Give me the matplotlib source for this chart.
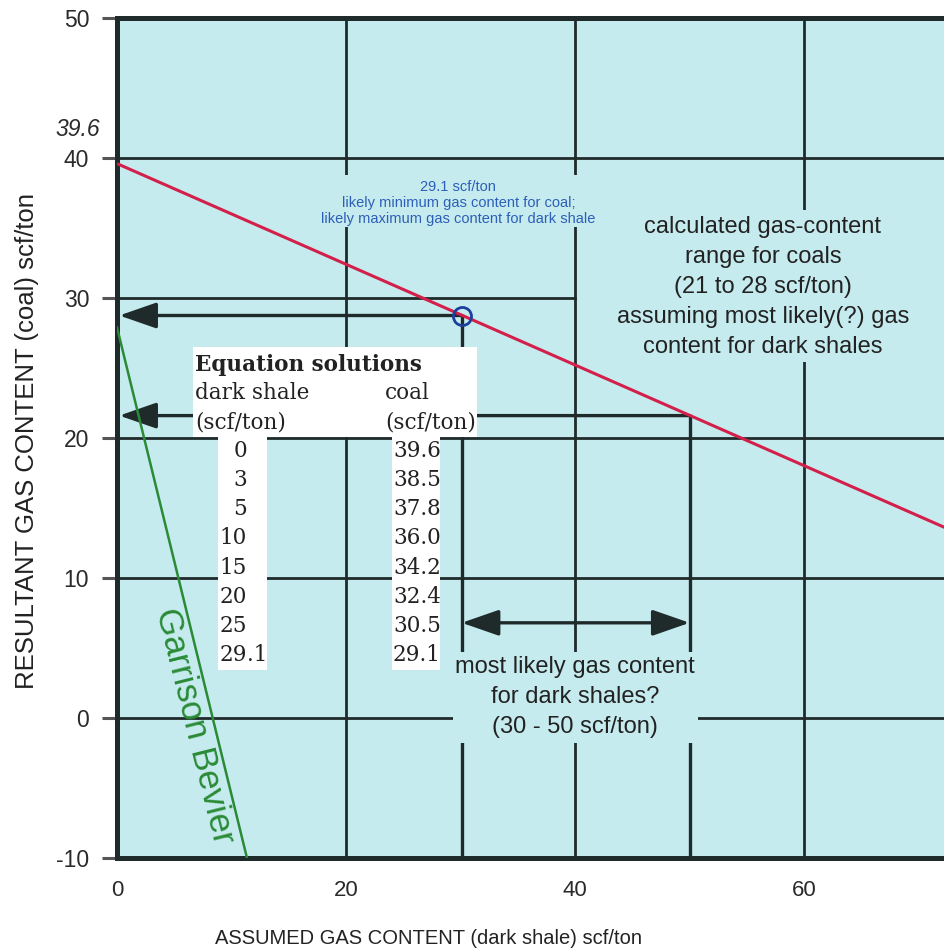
import matplotlib
matplotlib.use("Agg")
import matplotlib.pyplot as plt
from matplotlib.patches import Rectangle

# ---- data ----
shale_vals = [0, 3, 5, 10, 15, 20, 25, 29.1]
coal_vals = [39.6, 38.5, 37.8, 36.0, 34.2, 32.4, 30.5, 29.1]
red_x = [0, 72.3]
red_y = [39.6, 13.6]
green_x = [0, 11.35]
green_y = [27.9, -10]
circle_pt = (30.1, 28.75)
corner_pt = (50.0, 21.6)
range_arrow_y = 6.8
x_ticks = [0, 20, 40, 60]
y_ticks = [-10, 0, 10, 20, 30, 40, 50]
grid_x = [20, 40, 60]
grid_y = [0, 10, 20, 30, 40]

BG = "#c6ebef"
DARK = "#1f2b2b"
RED = "#d2204a"
GREEN = "#2a8a35"
BLUE = "#2c5fb8"
SANS = ["Liberation Sans", "DejaVu Sans"]
SERIF = ["DejaVu Serif"]

plt.rcParams["font.family"] = SANS
plt.rcParams["axes.unicode_minus"] = False

fig = plt.figure(figsize=(9.45, 9.5), dpi=100)
ax = fig.add_axes([117 / 945, 92 / 950, 828 / 945, 840 / 950])
ax.set_facecolor(BG)
ax.set_xlim(0, 72.3)
ax.set_ylim(-10, 50)

for s in ["left", "bottom", "top"]:
    ax.spines[s].set_linewidth(3.6)
    ax.spines[s].set_color(DARK)
ax.spines["right"].set_visible(False)

ax.set_xticks(x_ticks)
ax.set_yticks(y_ticks)
ax.tick_params(axis="y", length=11, width=2.2, color="#555555", pad=9,
               labelsize=16.5, labelcolor="#2a2a2a")
ax.tick_params(axis="x", length=0, pad=16, labelsize=16, labelcolor="#2a2a2a")

# grid lines
for gx in grid_x:
    ax.axvline(gx, color=DARK, lw=2.0, zorder=1)
for gy in grid_y:
    ax.axhline(gy, color=DARK, lw=2.0, zorder=1)

# annotation lines
ax.plot([circle_pt[0], circle_pt[0]], [circle_pt[1], -10], color=DARK, lw=2.4, zorder=2)
ax.plot([corner_pt[0], corner_pt[0]], [corner_pt[1], -10], color=DARK, lw=2.4, zorder=2)
arrow_kw = dict(arrowstyle="-|>,head_length=1.15,head_width=0.4", mutation_scale=20,
                lw=2.4, color=DARK, shrinkA=0, shrinkB=0)
ax.annotate("", xy=(0.2, circle_pt[1]), xytext=circle_pt, arrowprops=arrow_kw, zorder=2)
ax.annotate("", xy=(0.2, corner_pt[1]), xytext=corner_pt, arrowprops=arrow_kw, zorder=2)
dbl_kw = dict(arrow_kw)
dbl_kw["arrowstyle"] = "<|-|>,head_length=1.15,head_width=0.4"
ax.annotate("", xy=(corner_pt[0], range_arrow_y), xytext=(circle_pt[0], range_arrow_y),
            arrowprops=dbl_kw, zorder=2)

# covering boxes (background coloured)
ax.add_patch(Rectangle((40.2, 25.4), 33, 10.9, facecolor=BG, edgecolor="none", zorder=3))
ax.add_patch(Rectangle((16.9, 35.1), 26.1, 3.7, facecolor=BG, edgecolor="none", zorder=3))
ax.add_patch(Rectangle((29.3, -1.8), 21.4, 6.5, facecolor=BG, edgecolor="none", zorder=3))

# lines
ax.plot(red_x, red_y, color=RED, lw=2.2, zorder=5, solid_capstyle="butt")
ax.plot(green_x, green_y, color=GREEN, lw=1.8, zorder=5)
ax.plot([circle_pt[0]], [circle_pt[1]], marker="o", ms=13, mfc="none", mec="#1c3f9e",
        mew=2.0, zorder=6)

# table
ax.add_patch(Rectangle((6.64, 20.07), 24.8, 6.43, facecolor="white", edgecolor="none", zorder=4))
ax.add_patch(Rectangle((8.82, 3.43), 4.3, 16.7, facecolor="white", edgecolor="none", zorder=4))
ax.add_patch(Rectangle((24.0, 3.43), 4.2, 16.7, facecolor="white", edgecolor="none", zorder=4))

tfs = 15.5
ax.text(6.8, 25.2, "Equation solutions", family=SERIF, weight="bold", fontsize=tfs,
        color="#222222", va="center", ha="left", zorder=5)
ax.text(6.8, 23.2, "dark shale", family=SERIF, fontsize=tfs, color="#222222",
        va="center", ha="left", zorder=5)
ax.text(6.8, 21.1, "(scf/ton)", family=SERIF, fontsize=tfs, color="#222222",
        va="center", ha="left", zorder=5)
ax.text(23.4, 23.2, "coal", family=SERIF, fontsize=tfs, color="#222222",
        va="center", ha="left", zorder=5)
ax.text(23.4, 21.1, "(scf/ton)", family=SERIF, fontsize=tfs, color="#222222",
        va="center", ha="left", zorder=5)
row0 = 19.1
step = 2.09
for i, (sv, cv) in enumerate(zip(shale_vals, coal_vals)):
    yy = row0 - i * step
    s = f"{sv:g}"
    ip, _, fp = s.partition(".")
    ax.text(11.35, yy, ip, family=SERIF, fontsize=tfs, color="#222222",
            va="center", ha="right", zorder=5)
    if fp:
        ax.text(11.35, yy, "." + fp, family=SERIF, fontsize=tfs, color="#222222",
                va="center", ha="left", zorder=5)
    ax.text(24.1, yy, f"{cv:.1f}", family=SERIF, fontsize=tfs, color="#222222",
            va="center", ha="left", zorder=5)

# annotations
ax.text(29.8, 36.8, "29.1 scf/ton\nlikely minimum gas content for coal;\nlikely maximum gas content for dark shale",
        color=BLUE, fontsize=10.5, ha="center", va="center", linespacing=1.2, zorder=5)
ax.text(56.4, 30.8, "calculated gas-content\nrange for coals\n(21 to 28 scf/ton)\nassuming most likely(?) gas\ncontent for dark shales",
        color="#222222", fontsize=17, ha="center", va="center", linespacing=1.47, zorder=5)
ax.text(40.0, 1.5, "most likely gas content\nfor dark shales?\n(30 - 50 scf/ton)",
        color="#222222", fontsize=17, ha="center", va="center", linespacing=1.47, zorder=5)
ax.text(6.8, -0.6, "Garrison Bevier", color=GREEN, fontsize=25, rotation=-76,
        rotation_mode="anchor", ha="center", va="center", zorder=5)

# italic 39.6 label
ax.text(-(117 - 100) / 11.45, 42.0, "39.6", fontsize=16.5, style="italic",
        color="#2a2a2a", ha="right", va="center", clip_on=False)

fig.text(429 / 945, 1 - 938 / 950, "ASSUMED GAS CONTENT (dark shale) scf/ton",
         fontsize=14.5, color="#222222", ha="center", va="center")
fig.text(27 / 945, 1 - 441 / 950, "RESULTANT GAS CONTENT (coal) scf/ton",
         fontsize=18.5, color="#222222", ha="center", va="center", rotation=90)

fig.savefig("out.png", dpi=100, facecolor="white")
